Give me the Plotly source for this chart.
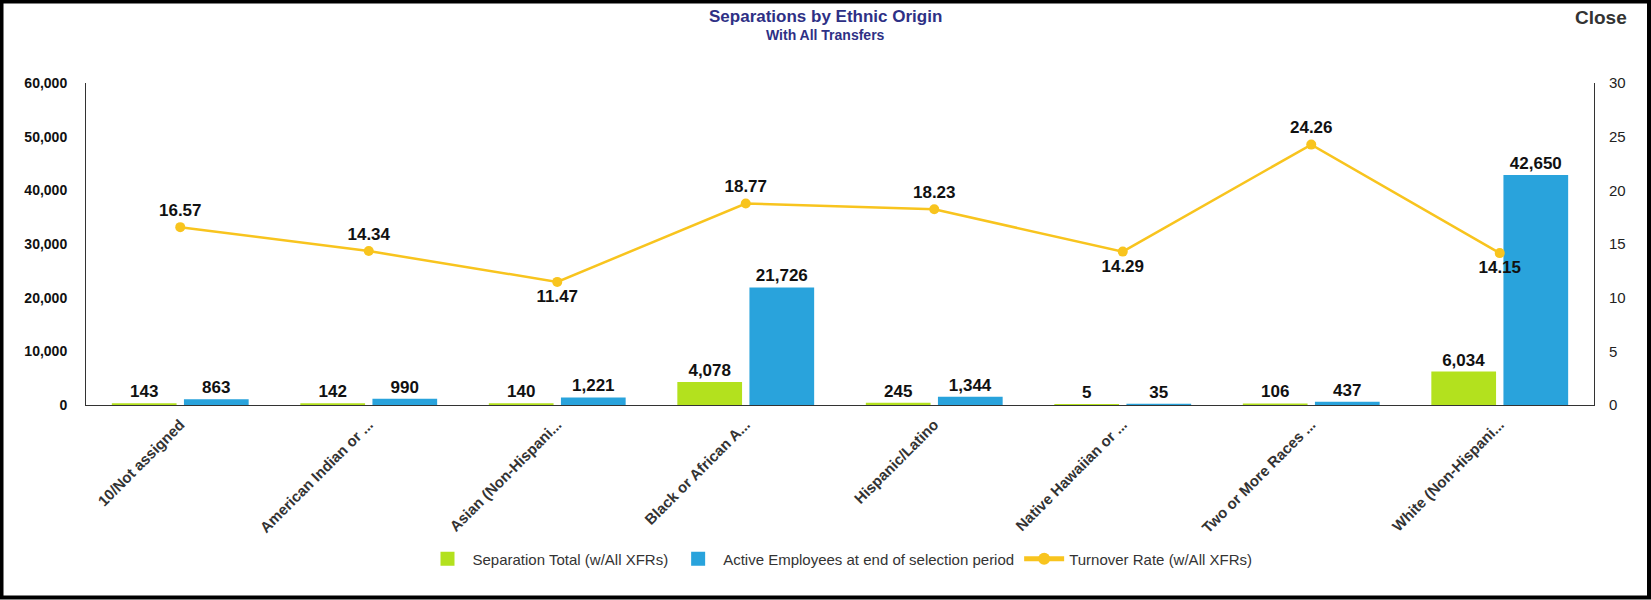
import plotly.graph_objects as go

categories = ["10/Not assigned", "American Indian or ...", "Asian (Non-Hispani...",
              "Black or African A...", "Hispanic/Latino", "Native Hawaiian or ...",
              "Two or More Races ...", "White (Non-Hispani..."]
separations = [143, 142, 140, 4078, 245, 5, 106, 6034]
active = [863, 990, 1221, 21726, 1344, 35, 437, 42650]
turnover = [16.57, 14.34, 11.47, 18.77, 18.23, 14.29, 24.26, 14.15]
turnover_pos = ["top center", "top center", "bottom center", "top center",
                "top center", "bottom center", "top center", "bottom center"]

W, H = 1651, 600
L, R, T, B = 86, 57, 83, 195
PW, PH = W - L - R, H - T - B


def px_x(x):
    return (x - L) / PW


def px_y(y):
    return (H - B - y) / PH


FONT = "Liberation Sans, Arial, sans-serif"
GREEN = "#B3E11E"
BLUE = "#29A3DC"
GOLD = "#F8C41E"
LABEL = dict(family=FONT, size=17, color="#111", weight="bold")

fig = go.Figure()
fig.add_trace(go.Bar(
    x=categories, y=separations, name="Separation Total (w/All XFRs)",
    marker=dict(color=GREEN, line=dict(width=2, color=GREEN)),
    text=[f"{v:,}" for v in separations], textposition="outside",
    textfont=LABEL, cliponaxis=False, yaxis="y",
))
fig.add_trace(go.Bar(
    x=categories, y=active, name="Active Employees at end of selection period",
    marker=dict(color=BLUE, line=dict(width=2, color=BLUE)),
    text=[f"{v:,}" for v in active], textposition="outside",
    textfont=LABEL, cliponaxis=False, yaxis="y",
))
fig.add_trace(go.Scatter(
    x=categories, y=turnover, name="Turnover Rate (w/All XFRs)",
    mode="lines+markers+text",
    line=dict(color=GOLD, width=2.5), marker=dict(color=GOLD, size=10),
    text=[f"{v:.2f}" for v in turnover], textposition=turnover_pos,
    textfont=LABEL, cliponaxis=False, yaxis="y2",
))

fig.update_layout(
    width=W, height=H,
    margin=dict(l=L, r=R, t=T, b=B, autoexpand=False),
    paper_bgcolor="white", plot_bgcolor="white",
    font=dict(family=FONT, color="#333"),
    barmode="group", bargap=0.235, bargroupgap=0.13,
    showlegend=True,
    legend=dict(orientation="h", x=0.5, xanchor="center", y=px_y(559), yanchor="middle",
                font=dict(family=FONT, size=15, color="#333"), itemsizing="constant",
                itemwidth=40),
    xaxis=dict(
        showline=True, linecolor="#333", linewidth=1, showgrid=False, ticks="",
        tickangle=-45, tickfont=dict(family=FONT, size=15, color="#333", weight="bold"),
        ticklabelstandoff=4,
    ),
    yaxis=dict(
        range=[0, 60000], dtick=10000, tickformat=",", showline=True, linecolor="#333",
        linewidth=1, showgrid=False, zeroline=False, ticks="",
        tickfont=dict(family=FONT, size=14, color="#111", weight="bold"), ticklabelstandoff=15,
    ),
    yaxis2=dict(
        range=[0, 30], dtick=5, overlaying="y", side="right", showline=True,
        linecolor="#333", linewidth=1, showgrid=False, zeroline=False, ticks="",
        tickfont=dict(family=FONT, size=15, color="#222"), ticklabelstandoff=11,
    ),
    annotations=[
        dict(text="<b>Separations by Ethnic Origin</b>", xref="paper", yref="paper",
             x=px_x(825), y=px_y(16), xanchor="center", yanchor="middle", showarrow=False,
             font=dict(family=FONT, size=17, color="#2E3085")),
        dict(text="<b>With All Transfers</b>", xref="paper", yref="paper",
             x=px_x(825), y=px_y(35), xanchor="center", yanchor="middle", showarrow=False,
             font=dict(family=FONT, size=14, color="#2E3085")),
        dict(text="<b>Close</b>", xref="paper", yref="paper",
             x=px_x(1629), y=px_y(18), xanchor="right", yanchor="middle", showarrow=False,
             font=dict(family=FONT, size=19, color="#333")),
    ],
    shapes=[
        dict(type="rect", xref="paper", yref="paper",
             x0=px_x(1.5), x1=px_x(W - 2), y0=px_y(H - 2.5), y1=px_y(1.5),
             line=dict(color="black", width=4), fillcolor="rgba(0,0,0,0)", layer="above"),
    ],
)

fig.write_html("out.html", config={"displayModeBar": False},
               post_script="document.body.style.margin='0';document.body.style.overflow='hidden';")
